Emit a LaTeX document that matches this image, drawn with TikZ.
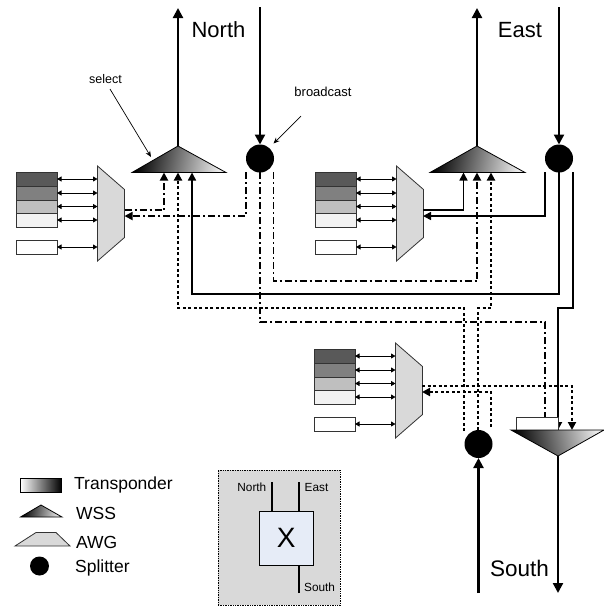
\documentclass[tikz,border=0pt]{standalone}
\usepackage{fontspec}
\setmainfont{Liberation Sans}
\usetikzlibrary{arrows.meta,calc}
\definecolor{rowa}{HTML}{595959}
\definecolor{rowb}{HTML}{808080}
\definecolor{rowc}{HTML}{BFBFBF}
\definecolor{rowd}{HTML}{F2F2F2}
\definecolor{awgfill}{HTML}{D9D9D9}
\definecolor{xfill}{HTML}{E6ECF7}
\tikzset{
  rowbox/.style={draw=black!80,line width=0.8pt,minimum width=41pt,inner sep=0pt,outer sep=0pt,anchor=north west},
  awgnode/.style={inner sep=0pt,outer sep=0pt,minimum width=27pt,minimum height=95pt,anchor=north west},
  chanarrow/.style={{Triangle[length=4.5pt,width=5pt]}-{Triangle[length=4.5pt,width=5pt]},line width=0.8pt},
  splitter/.style={circle,fill=black,inner sep=0pt,minimum size=28pt,outer sep=0pt},
  fibre/.style={line width=2.2pt,-{Triangle[length=10pt,width=10pt]}},
  solidlink/.style={line width=1.6pt},
  dashlink/.style={line width=1.7pt,dash pattern=on 7pt off 3pt on 2pt off 3pt},
  dotlink/.style={line width=2pt,dash pattern=on 3pt off 2.5pt},
  tip/.style={-{Triangle[length=8pt,width=8pt]}},
  wssshade/.style={draw=black,line width=0.8pt,shading=axis,left color=black,right color=black!8,shading angle=78},
  lbl/.style={inner sep=0pt,font=\fontsize{#1}{#1}\selectfont},
  call/.style={line width=0.7pt,-{Stealth[length=6pt,width=5pt]}}
}
\newcommand{\channelgroup}[3]{%
  \node[rowbox,fill=rowa,minimum height=14pt] (#3r1) at (#1,#2) {};
  \node[rowbox,fill=rowb,minimum height=14pt] (#3r2) at (#1,#2+14) {};
  \node[rowbox,fill=rowc,minimum height=13pt] (#3r3) at (#1,#2+28) {};
  \node[rowbox,fill=rowd,minimum height=14pt] (#3r4) at (#1,#2+41) {};
  \node[rowbox,fill=white,minimum height=14pt] (#3r5) at (#1,#2+68) {};
  \node[awgnode] (#3) at (#1+81.5,#2-6) {};
  \draw[draw=black!80,fill=awgfill,line width=0.8pt] (#3.north west) -- ($(#3.north east)+(0,23.5)$) -- ($(#3.south east)+(0,-23.5)$) -- (#3.south west) -- cycle;
  \foreach \i in {1,...,5}{\draw[chanarrow] (#3r\i.east) -- (#3r\i.east -| #3.west);}
}
\begin{document}
\begin{tikzpicture}[x=1pt,y=-1pt]
\useasboundingbox (0,0) rectangle (604,606);
% channel groups
\channelgroup{16}{172}{awga}
\channelgroup{315}{172}{awgb}
\channelgroup{314}{349}{awgc}
% splitters
\node[splitter] (sp1) at (260,158.5) {};
\node[splitter] (sp2) at (559,158.5) {};
\node[splitter] (sp3) at (478.5,444) {};
% anchor points
\coordinate (n1top) at (178,8); \coordinate (n2top) at (260,7);
\coordinate (e1top) at (477,8); \coordinate (e2top) at (559,7);
\coordinate (s1bot) at (558,593); \coordinate (s2bot) at (478.5,593);
\coordinate (w1apex) at (178,146); \coordinate (w2apex) at (477,146); \coordinate (w3apex) at (558,456);
\coordinate (w1a) at (164,172.5); \coordinate (w1b) at (178,172.5); \coordinate (w1c) at (192,172.5);
\coordinate (w2a) at (463.5,172.5); \coordinate (w2b) at (477,172.5); \coordinate (w2c) at (491,172.5);
\coordinate (w3a) at (558,430); \coordinate (w3b) at (572,430);
\coordinate (a1out) at (124.5,210); \coordinate (a1in) at (124.5,216);
\coordinate (a2out) at (423,210); \coordinate (a2in) at (423,216);
\coordinate (a3out) at (422,386); \coordinate (a3in) at (422,392);
\coordinate (s1l) at (246,172); \coordinate (s1m) at (260,172); \coordinate (s1r) at (273.5,172);
\coordinate (s2l) at (545,172); \coordinate (s2m) at (559,172); \coordinate (s2r) at (573,172);
\coordinate (s3l) at (464,431); \coordinate (s3m) at (478,430); \coordinate (s3r) at (491,427);
% links
\draw[dashlink,tip] (a1out) -| (w1a);
\draw[dashlink,tip] (s1l) |- (a1in);
\draw[dashlink,tip] (s1r) |- (400,281) -| (w2b);
\draw[solidlink,tip] (s2m) |- (400,294) -| (w1c);
\draw[solidlink,tip] (a2out) -| (w2a);
\draw[solidlink,tip] (s2l) |- (a2in);
\draw[dotlink,tip] (s3l) |- (300,308) -| (w1b);
\draw[dotlink,tip] (s3m) |- (485,308) -| (w2c);
\draw[dotlink,tip] (s3r) |- (a3in);
\draw[dotlink,tip] (a3out) -| (w3b);
\draw[solidlink] (s2r) |- (565,308) -| ($(w3a)+(0,-20)$);
\draw[line width=2.2pt,tip] ($(w3a)+(0,-21)$) -- (w3a);
% far transponder
\node[rowbox,fill=white,minimum width=42pt,minimum height=13pt,anchor=south west] (tr3) at (516,430) {};
\draw[dashlink] (s1m) |- (400,322) -| (tr3.north -| 545,0);
% WSS shapes
\draw[wssshade] (132,172.5) -- (w1apex) -- (226,172.5) -- cycle;
\draw[wssshade] (430,172.5) -- (w2apex) -- (525,172.5) -- cycle;
\draw[wssshade,shading angle=102] (511,430) -- (604,430) -- (w3apex) -- cycle;
% trunk fibres
\draw[fibre] (w1apex) -- (n1top);
\draw[fibre] (n2top) -- (sp1.north);
\draw[fibre] (w2apex) -- (e1top);
\draw[fibre] (e2top) -- (sp2.north);
\draw[fibre] (w3apex) -- (s1bot);
\draw[fibre] (s2bot) -- (sp3.south);
% labels
\node[lbl=22] (lnorth) at (218.5,30) {North};
\node[lbl=22] (least) at (520,30) {East};
\node[lbl=22.5] (lsouth) at (519.5,568) {South};
\node[lbl=12.5] (lselect) at (105.5,79) {select};
\node[lbl=13] (lbroad) at (323,92) {broadcast};
\coordinate (selfrom) at (110,89); \coordinate (selto) at (151,157);
\coordinate (brofrom) at (301,116); \coordinate (broto) at (273.5,143.5);
\draw[call] (selfrom) -- (selto);
\draw[call] (brofrom) -- (broto);
% legend
\node[draw=black,line width=0.8pt,inner sep=0pt,minimum width=41pt,minimum height=14pt,shading=axis,left color=white,right color=black,shading angle=90] (legt) at (41,485) {};
\node[lbl=17.5,anchor=west] at (74,485) {Transponder};
\draw[wssshade] (20.5,517) -- (41,505) -- (62,517) -- cycle;
\node[lbl=17.5,anchor=west] at (76,513) {WSS};
\draw[draw=black!80,fill=awgfill,line width=0.8pt] (15,546) -- (36,532.5) -- (56,532.5) -- (70,546) -- cycle;
\node[lbl=17.5,anchor=west] at (76,542) {AWG};
\node[circle,fill=black,inner sep=0pt,minimum size=19pt] (legs) at (39.5,566) {};
\node[lbl=17.5,anchor=west] at (75,568) {Splitter};
% inset
\node[draw=black,densely dotted,line width=0.7pt,fill=awgfill,inner sep=0pt,minimum width=122.5pt,minimum height=135pt,anchor=north west] (inset) at (217.5,470) {};
\node[draw=black,line width=0.8pt,fill=xfill,inner sep=0pt,minimum width=54.5pt,minimum height=54.5pt,anchor=north west,font=\fontsize{28}{28}\selectfont] (xbox) at (258.5,510.5) {X};
\coordinate (xn) at (272,482); \coordinate (xe) at (299,482); \coordinate (xs) at (299,593);
\draw[line width=2pt] (xn) -- (xn |- xbox.north);
\draw[line width=2pt] (xe) -- (xe |- xbox.north);
\draw[line width=2pt] (xs) -- (xs |- xbox.south);
\node[lbl=11.8,anchor=east] at (266.5,487) {North};
\node[lbl=11.8,anchor=west] at (304.5,487) {East};
\node[lbl=11.8,anchor=west] at (304,587) {South};
\end{tikzpicture}
\end{document}
